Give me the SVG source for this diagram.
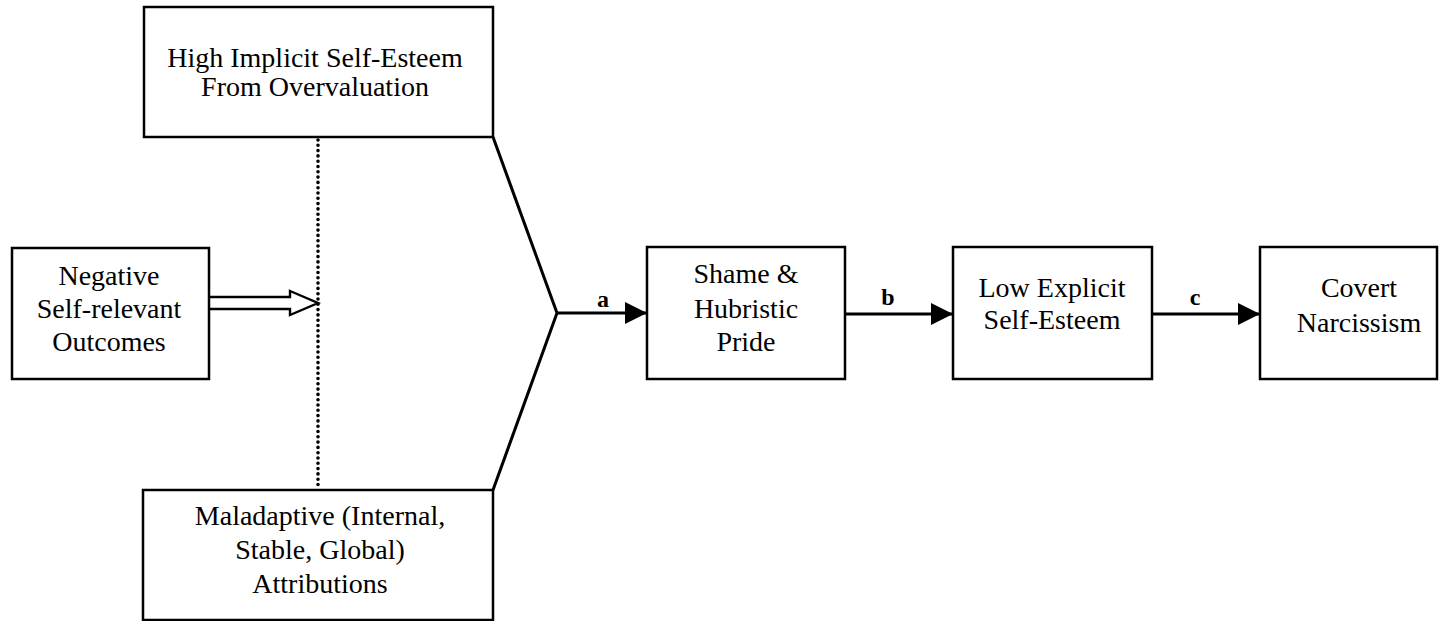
<svg xmlns="http://www.w3.org/2000/svg" width="1440" height="621" viewBox="0 0 1440 621">
<defs>
<style>
.box{fill:#fff;stroke:#000;stroke-width:2.5}
.t{font-family:"Liberation Serif","Times New Roman",serif;font-size:28px;fill:#000;text-anchor:middle}
.lbl{font-family:"Liberation Serif","Times New Roman",serif;font-size:24px;font-weight:bold;fill:#000;text-anchor:middle}
.ln{fill:none;stroke:#000;stroke-width:3}
</style>
<marker id="ah" markerWidth="22" markerHeight="22" viewBox="0 0 22 22" refX="22" refY="11" orient="auto" markerUnits="userSpaceOnUse">
<path d="M0,0 L22,11 L0,22 Z" fill="#000"/>
</marker>
</defs>
<rect width="1440" height="621" fill="#fff"/>
<g id="connectors">
<line x1="318" y1="140" x2="318" y2="488" stroke="#000" stroke-width="3.6" stroke-linecap="round" stroke-dasharray="0 5.3"/>
<path d="M209,297 L290,297 L290,291 L318,303 L290,315 L290,309 L209,309" fill="#fff" stroke="#000" stroke-width="2.4" stroke-linejoin="miter"/>
<polyline class="ln" points="493,137 557,313 493,490"/>
<line class="ln" x1="557" y1="313" x2="647" y2="313" marker-end="url(#ah)"/>
<line class="ln" x1="845" y1="314" x2="953" y2="314" marker-end="url(#ah)"/>
<line class="ln" x1="1152" y1="314" x2="1260" y2="314" marker-end="url(#ah)"/>
<text class="lbl" x="603" y="307">a</text>
<text class="lbl" x="888" y="305">b</text>
<text class="lbl" x="1195" y="305">c</text>
</g>
<g id="high-implicit">
<rect class="box" x="144" y="7" width="349" height="130"/>
<text class="t" x="315" y="67">High Implicit Self-Esteem</text>
<text class="t" x="315" y="96">From Overvaluation</text>
</g>
<g id="negative-outcomes">
<rect class="box" x="12" y="248" width="197" height="131"/>
<text class="t" x="109" y="285">Negative</text>
<text class="t" x="109" y="318">Self-relevant</text>
<text class="t" x="109" y="351">Outcomes</text>
</g>
<g id="maladaptive">
<rect class="box" x="143" y="490" width="350" height="130"/>
<text class="t" x="320" y="525">Maladaptive (Internal,</text>
<text class="t" x="320" y="559">Stable, Global)</text>
<text class="t" x="320" y="593">Attributions</text>
</g>
<g id="shame">
<rect class="box" x="647" y="247" width="198" height="132"/>
<text class="t" x="746" y="283">Shame &amp;</text>
<text class="t" x="746" y="318">Hubristic</text>
<text class="t" x="746" y="351">Pride</text>
</g>
<g id="low-explicit">
<rect class="box" x="953" y="247" width="199" height="132"/>
<text class="t" x="1052" y="297">Low Explicit</text>
<text class="t" x="1052" y="329">Self-Esteem</text>
</g>
<g id="covert">
<rect class="box" x="1260" y="247" width="177" height="132"/>
<text class="t" x="1359" y="297">Covert</text>
<text class="t" x="1359" y="332">Narcissism</text>
</g>
</svg>
